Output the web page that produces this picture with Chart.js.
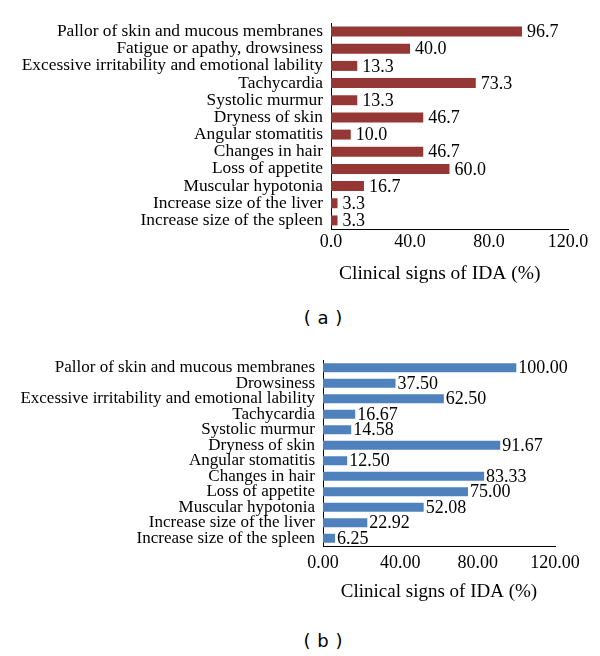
<!DOCTYPE html>
<html>
<head>
<meta charset="utf-8">
<script src="https://cdn.jsdelivr.net/npm/chart.js@4.4.1/dist/chart.umd.min.js"></script>
<style>
  body { margin: 0; background: #fff; }
  #wrap { position: relative; width: 600px; height: 656px; }
  canvas { position: absolute; left: 0; }
  .tag { position: absolute; width: 80px; text-align: center; font-family: 'DejaVu Sans', sans-serif; font-size: 18px; color: #000; word-spacing: 1px; }
</style>
</head>
<body>
<div id="wrap">
  <canvas id="grapheA" width="600" height="290" style="top:0px"></canvas>
  <div class="tag" style="left:283px; top:307px;">( a )</div>
  <canvas id="grapheB" width="600" height="280" style="top:330px"></canvas>
  <div class="tag" style="left:283px; top:630px;">( b )</div>
</div>
<script>
// signes cliniques, graphe (a)
const signesA = [
    'Pallor of skin and mucous membranes',
    'Fatigue or apathy, drowsiness',
    'Excessive irritability and emotional lability',
    'Tachycardia',
    'Systolic murmur',
    'Dryness of skin',
    'Angular stomatitis',
    'Changes in hair',
    'Loss of appetite',
    'Muscular hypotonia',
    'Increase size of the liver',
    'Increase size of the spleen'
];
const valeursA = [96.7, 40.0, 13.3, 73.3, 13.3, 46.7, 10.0, 46.7, 60.0, 16.7, 3.3, 3.3];

// graphe (b)
const signesB = [
    'Pallor of skin and mucous membranes',
    'Drowsiness',
    'Excessive irritability and emotional lability',
    'Tachycardia',
    'Systolic murmur',
    'Dryness of skin',
    'Angular stomatitis',
    'Changes in hair',
    'Loss of appetite',
    'Muscular hypotonia',
    'Increase size of the liver',
    'Increase size of the spleen'
];
const valeursB = [100.00, 37.50, 62.50, 16.67, 14.58, 91.67, 12.50, 83.33, 75.00, 52.08, 22.92, 6.25];

const axeTicks = [0, 40, 80, 120];
const titreAxe = 'Clinical signs of IDA (%)';

const serif = "'Liberation Serif', 'DejaVu Serif', serif";

// écrit la valeur au bout de chaque barre
const valeurBarres = {
    id: 'valeurBarres',
    afterDatasetsDraw(chart, args, opts) {
        const ctx = chart.ctx;
        const meta = chart.getDatasetMeta(0);
        const data = chart.data.datasets[0].data;
        ctx.save();
        ctx.font = '18px ' + serif;
        ctx.fillStyle = '#000';
        ctx.textAlign = 'left';
        ctx.textBaseline = 'middle';
        meta.data.forEach((bar, i) => {
            ctx.fillText(data[i].toFixed(opts.decimales), bar.x + opts.ecart, bar.y + 1);
        });
        ctx.restore();
    }
};

function createBarChart(canvasId, labels, data, couleur, decimales, g) {
    const ctx = document.getElementById(canvasId).getContext('2d');
    return new Chart(ctx, {
        type: 'bar',
        data: {
            labels: labels,
            datasets: [{
                data: data,
                backgroundColor: couleur,
                borderWidth: 0,
                categoryPercentage: 1,
                barPercentage: 0.58
            }]
        },
        plugins: [valeurBarres],
        options: {
            indexAxis: 'y',
            responsive: false,
            animation: false,
            devicePixelRatio: 1,
            layout: { padding: { top: g.top, right: g.right, left: 0, bottom: 0 } },
            plugins: {
                legend: { display: false },
                tooltip: { enabled: false },
                valeurBarres: { decimales: decimales, ecart: g.ecart }
            },
            scales: {
                x: {
                    min: 0,
                    max: 120,
                    afterBuildTicks: (scale) => { scale.ticks = axeTicks.map(v => ({ value: v })); },
                    afterFit: (scale) => { scale.height = g.basHauteur; },
                    grid: { display: false, drawTicks: false },
                    border: { display: true, color: '#000', width: 1 },
                    ticks: {
                        padding: g.tickPad,
                        color: '#000',
                        font: { family: serif, size: 18 },
                        callback: (v) => Number(v).toFixed(decimales)
                    },
                    title: {
                        display: true,
                        // espaces en fin de texte pour décaler le titre un peu à gauche
                        text: titreAxe + ' '.repeat(g.decalTitre),
                        color: '#000',
                        font: { family: serif, size: g.titreTaille },
                        padding: { top: 0, bottom: g.titrePad }
                    }
                },
                y: {
                    afterFit: (scale) => { scale.width = g.gauche; },
                    grid: { display: false, drawTicks: false },
                    border: { display: true, color: '#000', width: 1 },
                    ticks: {
                        padding: 8,
                        autoSkip: false,
                        color: '#000',
                        font: { family: serif, size: g.labelTaille }
                    }
                }
            }
        }
    });
}

createBarChart('grapheA', signesA, valeursA, '#953735', 1,
    { top: 23, right: 32, gauche: 331, basHauteur: 61, tickPad: 2, titreTaille: 19.5, titrePad: 4,
      ecart: 5, labelTaille: 17.4, decalTitre: 4 });
createBarChart('grapheB', signesB, valeursB, '#4F81BD', 2,
    { top: 30, right: 45, gauche: 323, basHauteur: 64, tickPad: 6, titreTaille: 19, titrePad: 7,
      ecart: 2, labelTaille: 17, decalTitre: 0 });
</script>
</body>
</html>
